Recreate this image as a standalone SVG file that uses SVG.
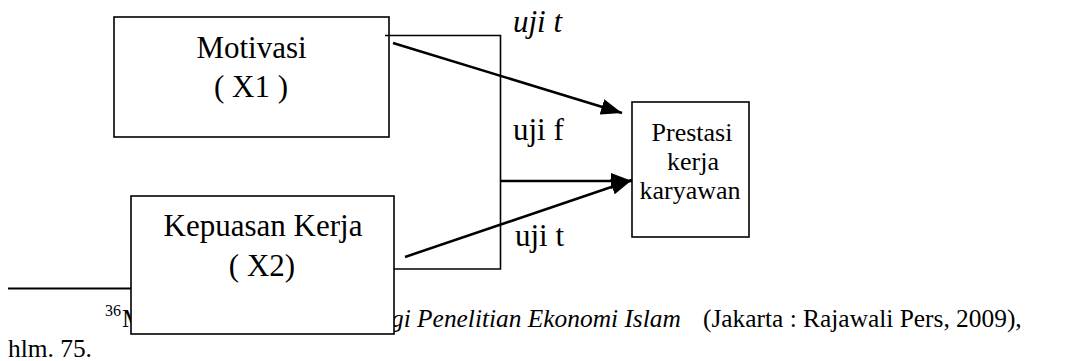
<svg xmlns="http://www.w3.org/2000/svg" width="1076" height="361" viewBox="0 0 1076 361">
<style>
.box{fill:#fff;stroke:#000;stroke-width:1.6}
.t{font-family:"Liberation Serif","Times New Roman","DejaVu Serif",serif;fill:#000}
.big{font-size:31px}
.mid{font-size:26px}
.fn{font-size:25.4px}
.it{font-style:italic}
.conn{fill:none;stroke:#000;stroke-width:2.5}
.br{fill:none;stroke:#000;stroke-width:1.6}
</style>
<defs>
<marker id="ah" markerUnits="userSpaceOnUse" markerWidth="22" markerHeight="16" refX="21" refY="8" orient="auto">
<path d="M0,0 L21,8 L0,16 z" fill="#000"/>
</marker>
</defs>
<g id="footnote">
<line x1="8" y1="288.5" x2="131" y2="288.5" stroke="#000" stroke-width="2"/>
<text class="t" x="105" y="316" font-size="16">36</text>
<text class="t fn" x="122" y="327">M</text>
<text class="t fn it" x="391" y="327">gi Penelitian Ekonomi Islam</text>
<text class="t fn" x="703" y="327">(Jakarta : Rajawali Pers, 2009),</text>
<text class="t fn" x="8" y="357">hlm. 75.</text>
</g>
<g id="node-motivasi">
<rect class="box" x="114" y="17" width="275" height="120"/>
<text class="t big" x="251.5" y="58" text-anchor="middle">Motivasi</text>
<text class="t big" x="251" y="97" text-anchor="middle">( X1 )</text>
</g>
<g id="node-kepuasan">
<rect class="box" x="131" y="196" width="263" height="138"/>
<text class="t big" x="263" y="236" text-anchor="middle">Kepuasan Kerja</text>
<text class="t big" x="262" y="276" text-anchor="middle">( X2)</text>
</g>
<g id="node-prestasi">
<rect class="box" x="632" y="102" width="117" height="135"/>
<text class="t mid" x="692" y="141" text-anchor="middle">Prestasi</text>
<text class="t mid" x="693" y="170" text-anchor="middle">kerja</text>
<text class="t mid" x="690" y="199" text-anchor="middle">karyawan</text>
</g>
<g id="connectors">
<path class="br" d="M385,35.5 H500.5 V269 H394"/>
<line class="conn" x1="393" y1="43" x2="622" y2="113" marker-end="url(#ah)"/>
<line class="conn" x1="501" y1="181" x2="632" y2="181" marker-end="url(#ah)"/>
<line class="conn" x1="405" y1="257" x2="632" y2="180" marker-end="url(#ah)"/>
<text class="t big it" x="513" y="32">uji t</text>
<text class="t big" x="513" y="140">uji f</text>
<text class="t big" x="515" y="246">uji t</text>
</g>
</svg>
